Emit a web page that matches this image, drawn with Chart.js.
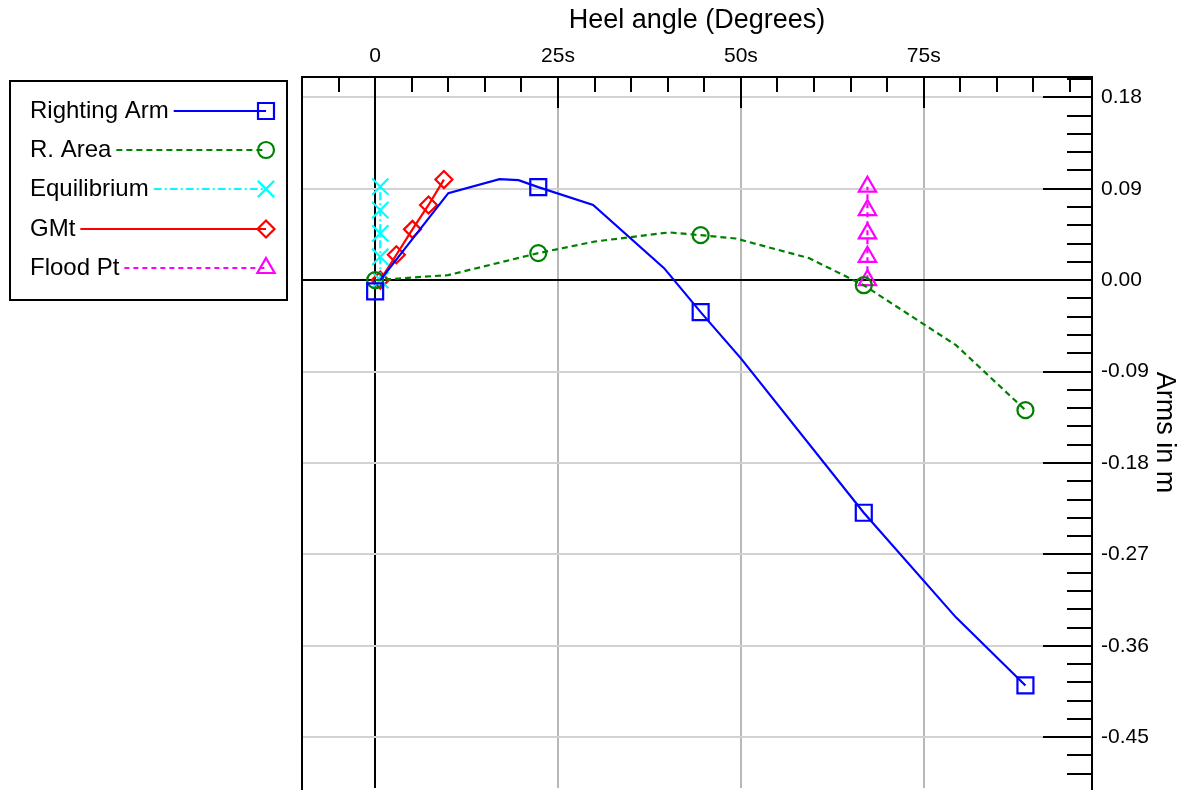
<!DOCTYPE html>
<html>
<head>
<meta charset="utf-8">
<script src="https://cdn.jsdelivr.net/npm/chart.js@4.4.1/dist/chart.umd.min.js"></script>
<style>
  html, body { margin: 0; padding: 0; background: #fff; overflow: hidden; }
  #wrap { width: 1189px; height: 790px; position: relative; }
</style>
</head>
<body>
<div id="wrap"><canvas id="stab"></canvas></div>
<script>
// tick labels
const xTicks = [0, 25, 50, 75];
const xTickLabels = ['0', '25s', '50s', '75s'];
const yTicks = [0.18, 0.09, 0, -0.09, -0.18, -0.27, -0.36, -0.45];

// Righting Arm (markers only on some points)
const raX = [0, 0.7, 10, 17, 19.6, 22.3, 29.8, 39.5, 44.5, 50, 66.8, 79.4, 88.9];
const raY = [-0.011, 0, 0.0857, 0.0995, 0.0985, 0.0916, 0.074, 0.0118, -0.0315, -0.077, -0.229, -0.332, -0.399];
const raMarks = [0, 5, 8, 10, 12];

// R. Area
const areaX = [0, 10, 22.3, 30, 40.2, 44.5, 49.3, 59.3, 66.8, 79.4, 88.9];
const areaY = [0, 0.005, 0.0266, 0.038, 0.047, 0.0443, 0.041, 0.0217, -0.005, -0.064, -0.128];
const areaMarks = [0, 2, 5, 8, 10];

// Equilibrium
const eqX = [0.7, 0.7, 0.7, 0.7, 0.7];
const eqY = [0, 0.023, 0.046, 0.069, 0.092];

// GMt
const gmX = [0.7, 2.9, 5.1, 7.3, 9.4];
const gmY = [0, 0.025, 0.05, 0.074, 0.099];

// Flood Pt
const floodX = [67.3, 67.3, 67.3, 67.3, 67.3];
const floodY = [0, 0.023, 0.046, 0.069, 0.092];

function pts(xs, ys) {
    return xs.map((x, i) => ({ x: x, y: ys[i] }));
}

function markerRadius(marks, r) {
    return ctx => marks.includes(ctx.dataIndex) ? r : 0;
}

Chart.defaults.font.family = "'Liberation Sans', Arial, sans-serif";
Chart.defaults.color = '#000';

const LW = 2.2;

const datasets = [
    {
        label: 'Righting Arm',
        data: pts(raX, raY),
        borderColor: '#0000ff',
        pointStyle: 'rect',
        markR: 11.3,
        pointRadius: markerRadius(raMarks, 11.3),
        segment: { borderColor: c => c.p0DataIndex === 0 ? 'transparent' : undefined }
    },
    {
        label: 'R. Area',
        data: pts(areaX, areaY),
        borderColor: '#008000',
        borderDash: [6, 4],
        pointStyle: 'circle',
        markR: 8,
        pointRadius: markerRadius(areaMarks, 8)
    },
    {
        label: 'Equilibrium',
        data: pts(eqX, eqY),
        borderColor: '#00ffff',
        borderDash: [8, 3, 2, 3],
        pointStyle: 'crossRot',
        markR: 11.5,
        pointRadius: 11.5
    },
    {
        label: 'GMt',
        data: pts(gmX, gmY),
        borderColor: '#ff0000',
        pointStyle: 'rectRot',
        markR: 8.5,
        pointRadius: 8.5
    },
    {
        label: 'Flood Pt',
        data: pts(floodX, floodY),
        borderColor: '#ff00ff',
        borderDash: [5, 4],
        pointStyle: 'triangle',
        markR: 10,
        pointRadius: 10
    }
];

datasets.forEach(d => {
    d.borderWidth = LW;
    d.pointBorderWidth = LW;
    d.pointBackgroundColor = 'transparent';
    d.backgroundColor = 'transparent';
    d.pointBorderColor = d.borderColor;
    d.fill = false;
    d.tension = 0;
});

// frame, inward ticks and the legend box
const framePlugin = {
    id: 'frame',
    afterDraw(chart) {
        const ctx = chart.ctx;
        const a = chart.chartArea;
        const xs = chart.scales.x, ys = chart.scales.y;
        ctx.save();
        ctx.strokeStyle = '#000';
        ctx.lineWidth = 2;
        ctx.setLineDash([]);
        ctx.beginPath();
        ctx.moveTo(a.left, 790);
        ctx.lineTo(a.left, a.top);
        ctx.lineTo(a.right, a.top);
        ctx.lineTo(a.right, 790);
        ctx.stroke();

        ctx.beginPath();
        for (let v = -5; v <= 95; v += 5) {
            const px = Math.round(xs.getPixelForValue(v));
            const len = v % 25 === 0 ? 31 : 15;
            ctx.moveTo(px, a.top);
            ctx.lineTo(px, a.top + len);
        }
        for (let k = -27; k <= 11; k++) {
            const py = Math.round(ys.getPixelForValue(k * 0.018));
            const len = k % 5 === 0 ? 49 : 25;
            ctx.moveTo(a.right, py);
            ctx.lineTo(a.right - len, py);
        }
        ctx.stroke();

        // legend
        ctx.strokeRect(10, 81, 277, 219);
        ctx.font = "24px 'Liberation Sans', Arial, sans-serif";
        ctx.textBaseline = 'middle';
        ctx.textAlign = 'left';
        const rows = [111, 150, 189, 229, 268];
        chart.data.datasets.forEach((d, i) => {
            const y = rows[i];
            ctx.fillStyle = '#000';
            ctx.fillText(d.label, 30, y);
            const w = ctx.measureText(d.label).width;
            ctx.strokeStyle = d.borderColor;
            ctx.lineWidth = LW;
            ctx.setLineDash(d.borderDash || []);
            ctx.beginPath();
            ctx.moveTo(30 + w + 5, y);
            ctx.lineTo(266, y);
            ctx.stroke();
            ctx.setLineDash([]);
            ctx.fillStyle = 'transparent';
            Chart.helpers.drawPoint(ctx, { pointStyle: d.pointStyle, radius: d.markR, rotation: 0, borderWidth: LW }, 266, y);
            ctx.strokeStyle = '#000';
            ctx.lineWidth = 2;
        });
        ctx.restore();
    }
};

new Chart(document.getElementById('stab'), {
    type: 'line',
    data: { datasets: datasets },
    plugins: [framePlugin],
    options: {
        responsive: true,
        maintainAspectRatio: false,
        animation: false,
        layout: { autoPadding: false, padding: { left: 302, bottom: 2, top: 0, right: 0 } },
        plugins: { legend: { display: false }, tooltip: { enabled: false } },
        scales: {
            x: {
                type: 'linear',
                position: 'top',
                min: -10,
                max: 98,
                afterBuildTicks: s => { s.ticks = xTicks.map(v => ({ value: v })); },
                afterFit: s => { s.height = 77; s.paddingLeft = 0; s.paddingRight = 0; },
                border: { display: false },
                grid: {
                    drawTicks: false,
                    lineWidth: 2,
                    color: c => c.tick && c.tick.value === 0 ? '#000' : '#b8b8b8'
                },
                ticks: {
                    padding: 8,
                    font: { size: 21 },
                    maxRotation: 0,
                    callback: v => xTickLabels[xTicks.indexOf(v)]
                },
                title: {
                    display: true,
                    text: 'Heel angle (Degrees)',
                    font: { size: 27 },
                    padding: { top: 4, bottom: 0 }
                }
            },
            y: {
                type: 'linear',
                position: 'right',
                min: -0.5,
                max: 0.2,
                afterBuildTicks: s => { s.ticks = yTicks.map(v => ({ value: v })); },
                afterFit: s => { s.width = 97; s.paddingTop = 0; s.paddingBottom = 0; },
                border: { display: false },
                grid: {
                    drawTicks: false,
                    lineWidth: 2,
                    color: c => c.tick && c.tick.value === 0 ? '#000' : '#d2d2d2'
                },
                ticks: {
                    padding: 9,
                    font: { size: 21 },
                    callback: v => v.toFixed(2)
                },
                title: {
                    display: true,
                    text: 'Arms in m',
                    font: { size: 27 },
                    padding: { top: 8, bottom: 0 }
                }
            }
        }
    }
});
</script>
</body>
</html>
